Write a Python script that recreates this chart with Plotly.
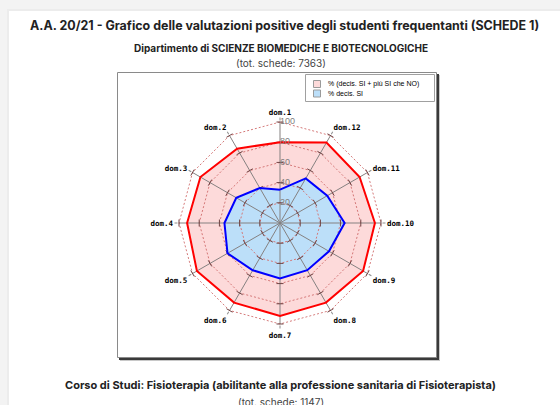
import plotly.graph_objects as go

# ---------------- data ----------------
categories = ["dom.1", "dom.2", "dom.3", "dom.4", "dom.5", "dom.6",
              "dom.7", "dom.8", "dom.9", "dom.10", "dom.11", "dom.12"]
pct_si_plus = [80, 85, 91, 92, 95, 91, 92, 91, 95, 94, 91, 92]
pct_decis_si = [33, 40, 50, 55, 60, 54, 55, 54, 56, 64, 54, 51]
series_names = ["% (decis. SI + più SI che NO)", "% decis. SI"]
ring_ticks = [20, 40, 60, 80, 100]

title_text = "A.A. 20/21 - Grafico delle valutazioni positive degli studenti frequentanti (SCHEDE 1)"
dept_text = "Dipartimento di SCIENZE BIOMEDICHE E BIOTECNOLOGICHE"
dept_count = "(tot. schede: 7363)"
course_text = "Corso di Studi: Fisioterapia (abilitante alla professione sanitaria di Fisioterapista)"
course_count = "(tot. schede: 1147)"

W, H = 560, 405


def px(x):
    return x / W


def py(y):
    return 1 - y / H


cx, cy, R = 280, 223, 102
R_MAX = 101

fig = go.Figure()

theta_closed = categories + categories[:1]
pink_fill, blue_fill = "#fddada", "#bcdff9"

# fills
fig.add_trace(go.Scatterpolar(
    r=pct_si_plus + pct_si_plus[:1], theta=theta_closed,
    mode="lines", fill="toself", fillcolor=pink_fill,
    line=dict(color=pink_fill, width=0), showlegend=False, hoverinfo="skip"))
fig.add_trace(go.Scatterpolar(
    r=pct_decis_si + pct_decis_si[:1], theta=theta_closed,
    mode="lines", fill="toself", fillcolor=blue_fill,
    line=dict(color=blue_fill, width=0), showlegend=False, hoverinfo="skip"))

# grid rings (dotted polygons)
ring_r, ring_t = [], []
for v in ring_ticks:
    ring_r += [v] * len(theta_closed) + [None]
    ring_t += theta_closed + [None]
fig.add_trace(go.Scatterpolar(
    r=ring_r, theta=ring_t, mode="lines",
    line=dict(color="#d47878", width=1, dash="2px,2px"),
    showlegend=False, hoverinfo="skip"))

# spokes
sp_r, sp_t = [], []
for c in categories:
    sp_r += [0, ring_ticks[-1], None]
    sp_t += [c, c, None]
fig.add_trace(go.Scatterpolar(
    r=sp_r, theta=sp_t, mode="lines",
    line=dict(color="#858080", width=1),
    showlegend=False, hoverinfo="skip"))

# small tick marks on every spoke at every ring
tick_r, tick_t, tick_a = [], [], []
for k, c in enumerate(categories):
    for v in ring_ticks:
        tick_r.append(v)
        tick_t.append(c)
        tick_a.append(-30 * k)
fig.add_trace(go.Scatterpolar(
    r=tick_r, theta=tick_t, mode="markers",
    marker=dict(symbol="line-ew", size=5, angle=tick_a,
                line=dict(color="#704545", width=1)),
    showlegend=False, hoverinfo="skip"))

# outlines
fig.add_trace(go.Scatterpolar(
    r=pct_si_plus + pct_si_plus[:1], theta=theta_closed, mode="lines",
    line=dict(color="#ff0000", width=2), showlegend=False, hoverinfo="skip"))
fig.add_trace(go.Scatterpolar(
    r=pct_decis_si + pct_decis_si[:1], theta=theta_closed, mode="lines",
    line=dict(color="#0000ff", width=2), showlegend=False, hoverinfo="skip"))

# ring value labels along dom.1
fig.add_trace(go.Scatterpolar(
    r=ring_ticks, theta=[categories[0]] * len(ring_ticks), mode="text",
    text=[str(v) for v in ring_ticks], textposition="middle right",
    textfont=dict(family="Liberation Sans", size=9, color="#808080"),
    showlegend=False, hoverinfo="skip"))

fig.update_layout(
    width=W, height=H,
    margin=dict(l=0, r=0, t=0, b=0),
    paper_bgcolor="#f3f3f3",
    polar=dict(
        domain=dict(x=[px(cx - R), px(cx + R)], y=[py(cy + R), py(cy - R)]),
        bgcolor="rgba(0,0,0,0)",
        gridshape="linear",
        radialaxis=dict(range=[0, R_MAX], showgrid=False, showline=False,
                        showticklabels=False, ticks=""),
        angularaxis=dict(
            direction="counterclockwise", rotation=90,
            categoryorder="array", categoryarray=categories,
            showline=False, showgrid=False,
            ticks="outside", ticklen=3, tickcolor="#8c8c8c",
            tickfont=dict(family="DejaVu Sans Mono", size=7.5, color="#000000", weight="bold"),
        ),
    ),
)

shapes = []
# white card
shapes.append(dict(type="rect", xref="paper", yref="paper", layer="below",
                   x0=px(7), x1=px(W + 10), y0=py(H + 10), y1=py(9),
                   fillcolor="#ececec", line=dict(width=0)))
shapes.append(dict(type="rect", xref="paper", yref="paper", layer="below",
                   x0=px(9), x1=px(W + 10), y0=py(H + 10), y1=py(11),
                   fillcolor="#ffffff", line=dict(width=0)))
# chart frame shadow + frame
shapes.append(dict(type="rect", xref="paper", yref="paper", layer="below",
                   x0=px(120), x1=px(440), y0=py(361), y1=py(75),
                   fillcolor="#c8c8c8", line=dict(width=0)))
shapes.append(dict(type="rect", xref="paper", yref="paper", layer="below",
                   x0=px(119), x1=px(439), y0=py(360), y1=py(74),
                   fillcolor="#3a3a3a", line=dict(width=0)))
shapes.append(dict(type="rect", xref="paper", yref="paper", layer="below",
                   x0=px(117.5), x1=px(436.5), y0=py(357.5), y1=py(72.5),
                   fillcolor="#ffffff", line=dict(color="#8a8a8a", width=1)))
# legend box
shapes.append(dict(type="rect", xref="paper", yref="paper",
                   x0=px(305.5), x1=px(434.5), y0=py(101.5), y1=py(74.5),
                   fillcolor="#ffffff", line=dict(color="#a0a0a0", width=1)))
legend_fill = [pink_fill, blue_fill]
for i, name in enumerate(series_names):
    yc = 84 + i * 9.5
    shapes.append(dict(type="rect", xref="paper", yref="paper",
                       x0=px(313.5), x1=px(320.5), y0=py(yc + 3.5), y1=py(yc - 3.5),
                       fillcolor=legend_fill[i], line=dict(color="#9a9a9a", width=1)))
fig.update_layout(shapes=shapes)

ann = []
ann.append(dict(text="<b>" + title_text + "</b>", x=px(284), y=py(25),
                font=dict(family="Inter", size=12.45, color="#222222")))
ann.append(dict(text="<b>" + dept_text + "</b>", x=px(W / 2 + 1), y=py(48),
                font=dict(family="Inter", size=10, color="#222222")))
ann.append(dict(text=dept_count, x=px(W / 2 + 1), y=py(63),
                font=dict(family="Inter", size=10, color="#444444")))
ann.append(dict(text="<b>" + course_text + "</b>", x=px(W / 2), y=py(385),
                font=dict(family="Inter", size=11, color="#222222")))
ann.append(dict(text=course_count, x=px(W / 2 + 1), y=py(401.5),
                font=dict(family="Inter", size=10, color="#444444")))
for i, name in enumerate(series_names):
    yc = 84 + i * 9.5
    ann.append(dict(text=name, x=px(326), y=py(yc), xanchor="left",
                    font=dict(family="Liberation Sans", size=7, color="#000000")))
for a in ann:
    a.update(xref="paper", yref="paper", showarrow=False)
    a.setdefault("xanchor", "center")
    a.setdefault("yanchor", "middle")
fig.update_layout(annotations=ann)

fig.write_html("out.html", config={"displayModeBar": False},
               post_script="document.body.style.margin='0px';")
